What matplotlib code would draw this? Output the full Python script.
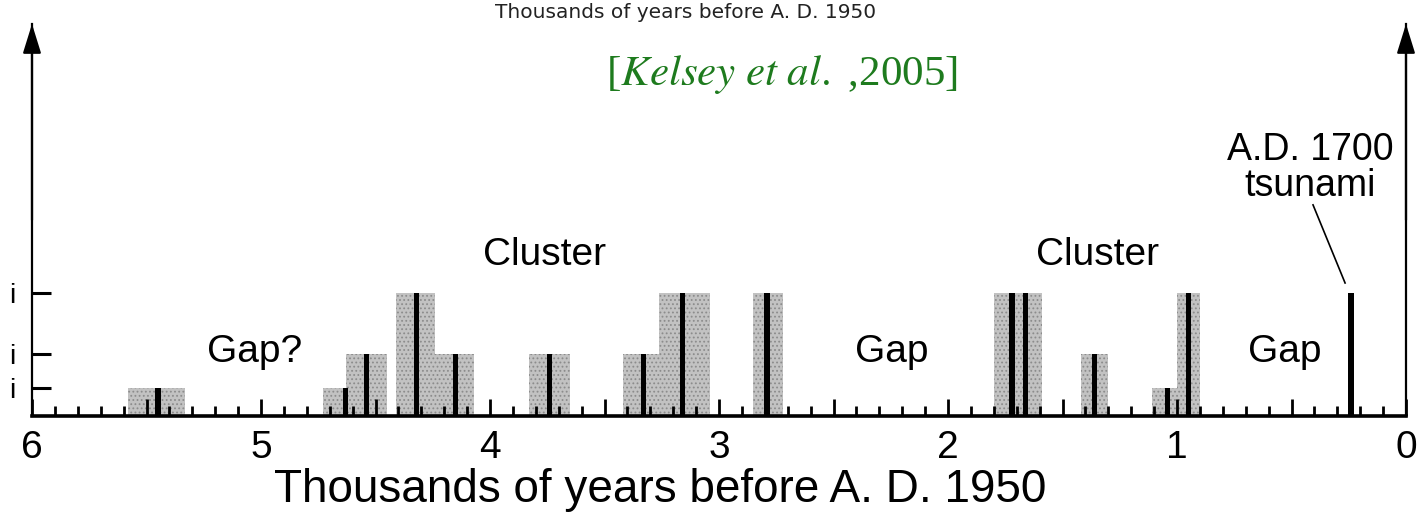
import numpy as np
import matplotlib
matplotlib.use('Agg')
import matplotlib.pyplot as plt
from matplotlib.ticker import MultipleLocator, FuncFormatter

plt.rcParams['font.family'] = ['Liberation Sans', 'DejaVu Sans']
plt.rcParams['hatch.linewidth'] = 0.8

# shaded age ranges (ky before 1950): start, end, level
box_start = [5.58, 4.73, 4.63, 4.41, 4.24, 3.83, 3.42, 3.26, 2.85, 1.80, 1.42, 1.11, 1.00]
box_end   = [5.33, 4.63, 4.45, 4.24, 4.07, 3.65, 3.26, 3.04, 2.72, 1.59, 1.30, 1.00, 0.90]
box_level = [1, 1, 2, 3, 2, 2, 2, 3, 3, 3, 2, 1, 3]

# best age estimate of each event and its level
event_age   = [5.45, 4.63, 4.54, 4.32, 4.15, 3.74, 3.33, 3.16, 2.79, 1.72, 1.66, 1.36, 1.04, 0.95, 0.24]
event_level = [1, 1, 2, 3, 2, 2, 2, 3, 3, 3, 3, 2, 1, 3, 3]

level_names = ['i', 'i', 'i']
level_height = {1: 1.0, 2: 2.2, 3: 4.4}

fig = plt.figure(figsize=(14.24, 5.21), dpi=100)
ax = fig.add_axes([32/1424, 1 - 416/521, (1406 - 32)/1424, (416 - 24)/521])

# shaded boxes (stippled grey)
b_start = np.array(box_start)
b_end = np.array(box_end)
b_h = np.array([level_height[l] for l in box_level])
ax.bar((b_start + b_end) / 2, b_h, width=np.abs(b_start - b_end),
       color='#c2c2c2', edgecolor='#8c8c8c', linewidth=0, hatch='....', zorder=1)

# black event bars
e_h = np.array([level_height[l] for l in event_level])
ax.bar(event_age, e_h, width=0.023, color='black', edgecolor='none', zorder=3)

ax.set_xlim(6, 0)
ax.set_ylim(0, 392 / 28)

ax.xaxis.set_major_locator(MultipleLocator(0.5))
ax.xaxis.set_minor_locator(MultipleLocator(0.1))
ax.xaxis.set_major_formatter(FuncFormatter(lambda v, p: '%d' % round(v) if abs(v - round(v)) < 1e-6 else ''))
ax.tick_params(axis='x', which='major', direction='in', length=12, width=2, pad=10, labelsize=28)
ax.tick_params(axis='x', which='minor', direction='in', length=7, width=2)

ax.set_yticks([level_height[k] for k in (1, 2, 3)])
ax.set_yticklabels(level_names)
ax.tick_params(axis='y', direction='in', length=14, width=2.2, pad=12, labelsize=20)

ax.spines['top'].set_visible(False)
ax.spines['bottom'].set_linewidth(2.6)
ax.spines['left'].set_linewidth(1.6)
ax.spines['right'].set_linewidth(1.6)

# arrow heads on both vertical axes
for xa in (6, 0):
    ax.annotate('', xy=(xa, 1.0), xytext=(xa, 0.5), xycoords=('data', 'axes fraction'),
                textcoords=('data', 'axes fraction'),
                arrowprops=dict(arrowstyle='-|>,head_length=0.9,head_width=0.28', lw=1.6,
                                color='black', mutation_scale=20, shrinkA=0, shrinkB=0))

# labels inside the plot
ax.text(3.76, 5.75, 'Cluster', fontsize=28, ha='center', va='center')
ax.text(1.345, 5.75, 'Cluster', fontsize=28, ha='center', va='center')
ax.text(5.03, 2.29, 'Gap?', fontsize=28, ha='center', va='center')
ax.text(2.245, 2.29, 'Gap', fontsize=28, ha='center', va='center')
ax.text(0.528, 2.29, 'Gap', fontsize=28, ha='center', va='center')
ax.text(0.42, 8.86, 'A.D. 1700\ntsunami', fontsize=27, ha='center', va='center', linespacing=1.0)
ax.plot([0.406, 0.266], [7.54, 4.75], color='black', lw=1.2)

ax.text(2.725, 12.18, '[$\\it{Kelsey\\ et\\ al.}$ ,2005]', fontsize=31, color='#1e7b1e',
        ha='center', va='center', family='Liberation Serif', math_fontfamily='stix')

fig.text(686/1424, 1 - 12/521, 'Thousands of years before A. D. 1950', fontsize=14.5,
         color='#222222', ha='center', va='center', family='DejaVu Sans')
fig.text(660/1424, 1 - 490/521, 'Thousands of years before A. D. 1950', fontsize=33,
         ha='center', va='center')

fig.savefig('out.png', dpi=100)
